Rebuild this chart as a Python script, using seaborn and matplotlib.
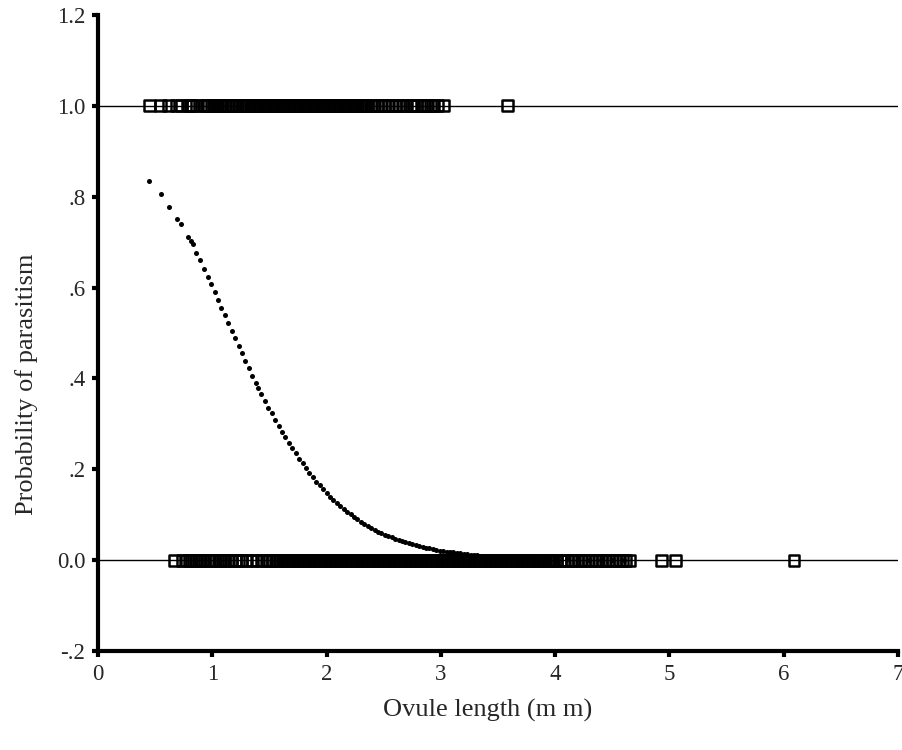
import matplotlib
matplotlib.use("Agg")
import matplotlib.pyplot as plt
import seaborn as sns
import pandas as pd

# Observed ovule lengths (mm) of parasitized ovules (outcome = 1)
parasitized_x = [
    0.45, 0.55, 0.62, 0.69, 0.73, 0.79, 0.81, 0.83, 0.86,
    0.93, 0.95, 0.97, 0.99, 1.01, 1.03, 1.05, 1.07, 1.09, 1.11, 1.13, 1.16, 1.18, 1.21,
    1.24, 1.26, 1.27, 1.29, 1.31, 1.32, 1.34, 1.36, 1.37, 1.39, 1.41, 1.42, 1.44, 1.46,
    1.47, 1.49, 1.51, 1.52, 1.54, 1.56, 1.57, 1.59, 1.61, 1.62, 1.64, 1.66, 1.67, 1.69,
    1.71, 1.72, 1.74, 1.76, 1.77, 1.79, 1.81, 1.82, 1.84, 1.86, 1.87, 1.89, 1.91, 1.92,
    1.94, 1.96, 1.97, 1.99, 2.01, 2.02, 2.04, 2.06, 2.07, 2.09, 2.11, 2.12, 2.14, 2.16,
    2.17, 2.19, 2.21, 2.22, 2.24, 2.26, 2.27, 2.29, 2.31, 2.32, 2.34, 2.36,
    2.39, 2.42, 2.45, 2.48, 2.51, 2.54, 2.57, 2.60, 2.63,
    2.67, 2.70, 2.74, 2.76, 2.79, 2.83, 2.86, 2.88, 2.91, 2.94, 2.97, 3.02, 3.58,
]

# Observed ovule lengths (mm) of non-parasitized ovules (outcome = 0)
healthy_x = [
    0.67, 0.74, 0.77, 0.80, 0.82, 0.85, 0.88, 0.90, 0.93, 0.96, 0.98, 1.01, 1.03, 1.06,
    1.09, 1.11, 1.14, 1.17, 1.20, 1.23, 1.26, 1.30, 1.35, 1.39, 1.43, 1.47, 1.50, 1.53,
    1.55, 1.57, 1.59, 1.61, 1.63, 1.65, 1.67, 1.69, 1.71, 1.73, 1.75, 1.77, 1.79, 1.81,
    1.83, 1.85, 1.87, 1.89, 1.91, 1.93, 1.95, 1.97, 1.99, 2.01, 2.03, 2.05, 2.07, 2.09,
    2.11, 2.13, 2.15, 2.17, 2.19, 2.21, 2.23, 2.25, 2.27, 2.29, 2.31, 2.33, 2.35, 2.37,
    2.39, 2.41, 2.43, 2.45, 2.47, 2.49, 2.51, 2.53, 2.55, 2.57, 2.59, 2.61, 2.63, 2.65,
    2.67, 2.69, 2.71, 2.73, 2.75, 2.77, 2.79, 2.81, 2.83, 2.85, 2.87, 2.89, 2.91, 2.93,
    2.95, 2.97, 2.99, 3.01, 3.03, 3.05, 3.07, 3.09, 3.11, 3.13, 3.15, 3.17, 3.19, 3.21,
    3.23, 3.25, 3.27, 3.29, 3.31, 3.33, 3.35, 3.37, 3.39, 3.41, 3.43, 3.45, 3.47, 3.49,
    3.51, 3.53, 3.55, 3.57, 3.59, 3.61, 3.63, 3.65, 3.67, 3.69, 3.71, 3.73, 3.75, 3.77,
    3.79, 3.81, 3.83, 3.85, 3.87, 3.89, 3.91, 3.93, 3.95, 3.97, 3.99, 4.01,
    4.05, 4.08, 4.11, 4.14, 4.17, 4.20, 4.23, 4.26, 4.29, 4.32, 4.35, 4.38, 4.41, 4.44,
    4.47, 4.50, 4.53, 4.56, 4.59, 4.62, 4.65, 4.93, 5.05, 6.09,
]

# Fitted probability of parasitism
fit_x = [
    0.45, 0.55, 0.62, 0.69, 0.73, 0.79, 0.81, 0.83, 0.86, 0.89, 0.93, 0.96, 0.99,
    1.02, 1.05, 1.08, 1.11, 1.14, 1.17, 1.20, 1.23, 1.26, 1.29, 1.32, 1.35, 1.38,
    1.40, 1.43, 1.46, 1.49, 1.52, 1.55, 1.58, 1.61, 1.64, 1.67, 1.70, 1.73, 1.76,
    1.79, 1.82, 1.85, 1.88, 1.91, 1.94, 1.97, 2.00, 2.03, 2.06, 2.09, 2.12, 2.15,
    2.18, 2.21, 2.24, 2.27, 2.30, 2.33, 2.36, 2.39, 2.42, 2.45, 2.48, 2.51, 2.54,
    2.57, 2.60, 2.63, 2.66, 2.69, 2.72, 2.75, 2.78, 2.81, 2.84, 2.87, 2.90, 2.93,
    2.96, 2.99, 3.02, 3.05, 3.08, 3.11, 3.14, 3.17, 3.20, 3.23, 3.26, 3.29, 3.32,
    3.35, 3.38, 3.41, 3.44, 3.47, 3.50, 3.55, 3.60, 3.65, 3.70, 3.80, 3.90, 4.00,
    4.10, 4.20, 4.30, 4.40, 4.50, 4.60,
]
fit_p = [
    0.835, 0.805, 0.778, 0.752, 0.740, 0.712, 0.703, 0.695, 0.675, 0.660, 0.640, 0.623, 0.607,
    0.590, 0.573, 0.556, 0.539, 0.522, 0.505, 0.489, 0.472, 0.455, 0.439, 0.422, 0.406, 0.390,
    0.380, 0.365, 0.351, 0.336, 0.323, 0.309, 0.296, 0.283, 0.270, 0.258, 0.246, 0.235, 0.223,
    0.213, 0.202, 0.192, 0.183, 0.173, 0.165, 0.156, 0.148, 0.140, 0.133, 0.126, 0.119, 0.113,
    0.106, 0.101, 0.095, 0.090, 0.085, 0.080, 0.075, 0.071, 0.067, 0.063, 0.060, 0.056, 0.053,
    0.050, 0.047, 0.044, 0.042, 0.039, 0.037, 0.035, 0.033, 0.031, 0.029, 0.027, 0.026, 0.024,
    0.023, 0.021, 0.020, 0.019, 0.018, 0.017, 0.016, 0.015, 0.014, 0.013, 0.012, 0.011, 0.011,
    0.010, 0.0094, 0.0088, 0.0083, 0.0078, 0.0073, 0.0066, 0.0059, 0.0053, 0.0047, 0.0038, 0.0031, 0.0025,
    0.0020, 0.0016, 0.0013, 0.0011, 0.0009, 0.0007,
]

y_ticks = [-0.2, 0.0, 0.2, 0.4, 0.6, 0.8, 1.0, 1.2]
y_tick_labels = ["-.2", "0.0", ".2", ".4", ".6", ".8", "1.0", "1.2"]
x_ticks = [0, 1, 2, 3, 4, 5, 6, 7]

obs = pd.DataFrame({
    "x": parasitized_x + healthy_x,
    "y": [1.0] * len(parasitized_x) + [0.0] * len(healthy_x),
})
fit = pd.DataFrame({"x": fit_x, "p": fit_p})

sns.set_style("white")
plt.rcParams["font.family"] = ["Liberation Serif", "DejaVu Serif"]

fig = plt.figure(figsize=(9.03, 7.5), dpi=100)
ax = fig.add_axes([0.1085, 0.132, 0.8860, 0.848])

ax.axhline(1.0, color="black", lw=1.0, zorder=1)
ax.axhline(0.0, color="black", lw=1.0, zorder=1)

sns.scatterplot(data=obs, x="x", y="y", ax=ax, marker="s", s=60,
                facecolor="none", edgecolor="black", linewidth=1.8, zorder=3)
sns.scatterplot(data=fit, x="x", y="p", ax=ax, marker="o", s=13,
                color="black", edgecolor="black", linewidth=0, zorder=4)

ax.set_xlim(0, 7)
ax.set_ylim(-0.2, 1.2)
ax.set_xticks(x_ticks)
ax.set_xticklabels([str(t) for t in x_ticks])
ax.set_yticks(y_ticks)
ax.set_yticklabels(y_tick_labels)

for side in ["top", "right"]:
    ax.spines[side].set_visible(False)
for side in ["left", "bottom"]:
    ax.spines[side].set_linewidth(3)
    ax.spines[side].set_color("black")

ax.tick_params(axis="both", which="major", direction="out", length=4, width=3,
               color="black", labelsize=16.5, pad=5, left=True, bottom=True)

ax.set_xlabel("Ovule length (m m)", fontsize=19)
ax.set_ylabel("Probability of parasitism", fontsize=19)
ax.xaxis.set_label_coords(0.4875, -0.0755)
ax.yaxis.set_label_coords(-0.075, 0.42)

fig.savefig("out.png", dpi=100)
